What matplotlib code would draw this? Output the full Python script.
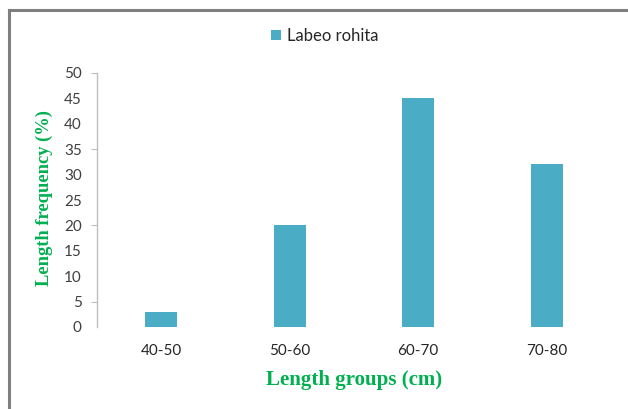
import matplotlib
matplotlib.use("Agg")
import matplotlib.pyplot as plt
from matplotlib.lines import Line2D
from matplotlib.patches import Patch

categories = ["40-50", "50-60", "60-70", "70-80"]
values = [3, 20, 45, 32]
series_name = "Labeo rohita"
yticks = list(range(0, 51, 5))
tick_marks = [5, 20, 35, 50]

W, H = 628, 409
fig = plt.figure(figsize=(W / 100, H / 100), dpi=100)
fig.patch.set_facecolor("white")

ax = fig.add_axes([97 / W, (H - 327) / H, (611 - 97) / W, (327 - 73) / H])
x = list(range(len(categories)))
ax.bar(x, values, width=0.25, color="#4BACC6", zorder=3)
ax.set_xlim(-0.5, len(categories) - 0.5)
ax.set_ylim(0, 50)

for s in ["top", "right", "bottom"]:
    ax.spines[s].set_visible(False)
ax.spines["left"].set_color("#BFBFBF")
ax.spines["left"].set_linewidth(1.0)

tickfont = dict(family=["Lato", "DejaVu Sans"], size=11)
ax.set_yticks(yticks)
ax.set_yticklabels([str(v) for v in yticks], **tickfont, color="#404040")
ax.tick_params(axis="y", which="major", length=0, pad=11)
ax.yaxis.remove_overlapping_locs = False
ax.set_yticks(tick_marks, minor=True)
ax.tick_params(axis="y", which="minor", length=4.3, width=0.8, color="#BFBFBF")

ax.set_xticks(x)
ax.set_xticklabels(categories, **tickfont, color="#262626")
ax.tick_params(axis="x", length=0, pad=12)

green = "#00B050"
fig.text(354 / W, 1 - 380 / H, "Length groups (cm)", ha="center", va="center",
         family=["Liberation Serif"], fontweight="bold", fontsize=15, color=green)
fig.text(44 / W, 1 - 198 / H, "Length frequency (%)", ha="center", va="center",
         rotation=90, family=["Liberation Serif"], fontweight="bold", fontsize=13.3, color=green)

handles = [Patch(facecolor="#4BACC6", edgecolor="none", label=series_name)]
fig.legend(handles=handles, loc="center", bbox_to_anchor=(325 / W, 1 - 36 / H),
           frameon=False, handlelength=0.6, handleheight=0.6, handletextpad=0.35,
           prop=dict(family=["Lato", "DejaVu Sans"], size=12), labelcolor="#262626")

# outer frame lines
fig.add_artist(Line2D([9 / W, 9 / W], [0, 1 - 10 / H], transform=fig.transFigure,
                      color="#7F7F7F", linewidth=2.2))
fig.add_artist(Line2D([9 / W, 1], [1 - 10 / H, 1 - 10 / H], transform=fig.transFigure,
                      color="#7F7F7F", linewidth=2.2))

fig.savefig("out.png", dpi=100, facecolor="white")
